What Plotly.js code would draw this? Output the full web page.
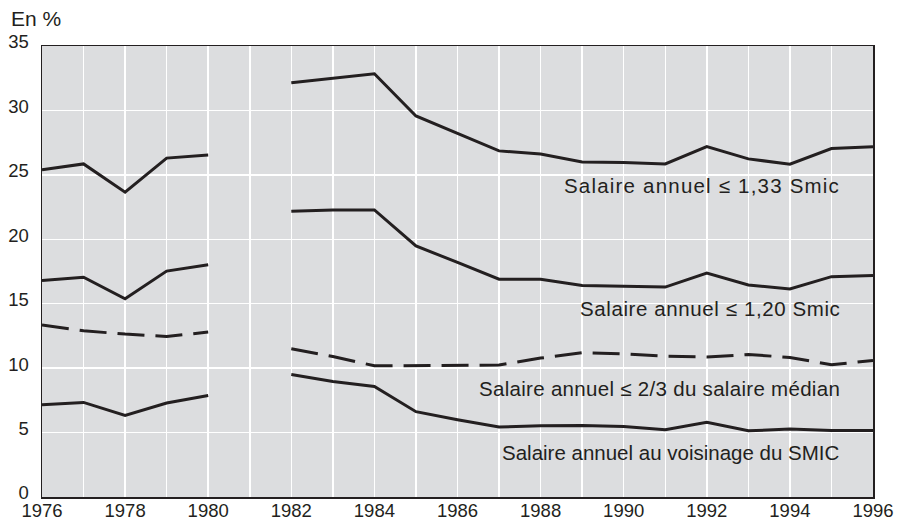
<!DOCTYPE html>
<html>
<head>
<meta charset="utf-8">
<script src="https://cdn.plot.ly/plotly-3.0.1.min.js"></script>
<style>html,body{margin:0;padding:0;background:#fff;}#chart{width:899px;height:522px;}</style>
</head>
<body>
<div id="chart"></div>
<script>
var years = [1976,1977,1978,1979,1980,1981,1982,1983,1984,1985,1986,1987,1988,1989,1990,1991,1992,1993,1994,1995,1996];
var smic133 = [25.4,25.85,23.65,26.3,26.55,null,32.15,32.5,32.85,29.57,28.2,26.86,26.62,26.0,25.95,25.85,27.19,26.24,25.83,27.04,27.19];
var smic120 = [16.8,17.06,15.38,17.53,18.02,null,22.18,22.28,22.28,19.49,18.2,16.9,16.9,16.41,16.36,16.29,17.37,16.46,16.15,17.1,17.19];
var median23 = [13.34,12.9,12.64,12.46,12.8,null,11.5,10.9,10.18,10.2,10.2,10.24,10.78,11.2,11.11,10.92,10.86,11.06,10.83,10.26,10.6];
var voisinage = [7.16,7.34,6.33,7.29,7.88,null,9.51,8.97,8.58,6.62,6.0,5.43,5.53,5.55,5.48,5.22,5.79,5.14,5.27,5.17,5.17];
var seriesLabels = ["Salaire annuel \u2264 1,33 Smic","Salaire annuel \u2264 1,20 Smic","Salaire annuel \u2264 2/3 du salaire m\u00e9dian","Salaire annuel au voisinage du SMIC"];
var labelY = [24.2, 14.6, 8.45, 3.46];
var yTicks = [0,5,10,15,20,25,30,35];
var xTicks = [1976,1978,1980,1982,1984,1986,1988,1990,1992,1994,1996];

var ink = '#231f20';
var spacing = [1.2, 0.6, 0.3, 0];
function tr(y, dash){
  return {x: years, y: y, type:'scatter', mode:'lines', connectgaps:false,
    line:{color:ink, width:3, dash:dash||'solid'}, hoverinfo:'skip', showlegend:false};
}
var data = [tr(smic133), tr(smic120), tr(median23,'27px,11px'), tr(voisinage)];

var annotations = seriesLabels.map(function(t,i){
  return {text:'<span style="letter-spacing:' + spacing[i] + 'px">' + t + '</span>', x:0.963, xref:'paper', y:labelY[i], yref:'y', xanchor:'right', yanchor:'middle',
    showarrow:false, font:{family:'Liberation Sans, Arial, sans-serif', size:20.5, color:ink}};
});
annotations.push({text:'En %', x:-0.04, xref:'paper', xanchor:'left', y:1, yref:'paper', yanchor:'bottom', yshift:14, showarrow:false,
  font:{family:'Liberation Sans, Arial, sans-serif', size:21, color:ink}});

var layout = {
  width:899, height:522,
  margin:{l:42, r:26, t:46, b:25, pad:0},
  paper_bgcolor:'#ffffff', plot_bgcolor:'#dcdddf',
  font:{family:'Liberation Sans, Arial, sans-serif', size:18, color:ink},
  xaxis:{range:[1976,1996], tickvals:xTicks, ticktext:xTicks.map(String), showgrid:true, gridcolor:'#ffffff', gridwidth:1.5,
    minor:{dtick:1, showgrid:true, gridcolor:'#ffffff', gridwidth:1.5},
    showline:true, mirror:true, linecolor:ink, linewidth:1.5, zeroline:false, ticks:'', tickfont:{size:18.5},
    ticklabelstandoff:-4},
  yaxis:{range:[0,35], tickvals:yTicks, ticktext:yTicks.map(String), showgrid:true, gridcolor:'#ffffff', gridwidth:1.5,
    showline:true, mirror:true, linecolor:ink, linewidth:1.5, zeroline:false, ticks:'', tickfont:{size:18.5},
    ticklabelshift:-4, ticklabelstandoff:8},
  annotations:annotations
};
Plotly.newPlot('chart', data, layout, {displayModeBar:false, staticPlot:true});
</script>
</body>
</html>
